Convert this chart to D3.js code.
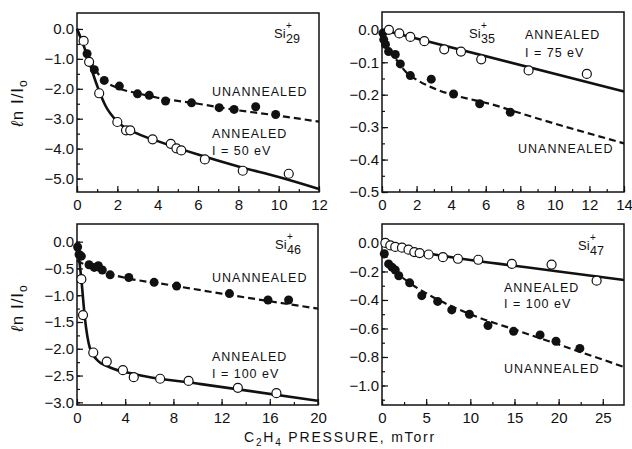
<!DOCTYPE html>
<html lang="en">
<head>
<meta charset="utf-8">
<title>ln I/I0 vs C2H4 pressure</title>
<script src="https://d3js.org/d3.v7.min.js"></script>
<style>
  body { margin: 0; background: #fff; }
  svg text { font-family: "Liberation Sans", Arial, Helvetica, sans-serif; fill: #111; }
</style>
</head>
<body>
<div id="chart"></div>
<script>
// ---- data: [pressure mTorr, ln I/I0] ----
// Si29+
var si29Annealed = [[0.33,-0.40],[0.6,-1.10],[1.1,-2.15],[2.0,-3.11],[2.43,-3.39],[2.64,-3.39],[3.75,-3.69],[4.65,-3.84],[4.93,-3.99],[5.17,-4.06],[6.34,-4.36],[8.22,-4.74],[10.5,-4.84]];
var si29Unannealed = [[0.5,-0.83],[0.86,-1.36],[1.35,-1.72],[2.1,-1.91],[3.0,-2.17],[3.58,-2.22],[4.39,-2.41],[5.68,-2.47],[7.05,-2.63],[7.79,-2.69],[8.86,-2.60],[9.85,-2.86]];
var si29AnnealedFit = [[0,0],[0.3,-0.5],[0.6,-1.1],[1.0,-1.9],[1.4,-2.55],[2,-3.1],[3,-3.5],[4,-3.75],[6,-4.2],[8,-4.6],[10,-4.95],[12,-5.35]];
var si29UnannealedFit = [[0,0],[0.5,-0.8],[1,-1.45],[1.5,-1.8],[2,-1.97],[3,-2.15],[4,-2.3],[6,-2.5],[8,-2.72],[10,-2.9],[12,-3.1]];

// Si35+
var si35Annealed = [[0.4,0.0],[1.0,-0.011],[1.64,-0.022],[2.45,-0.035],[3.6,-0.06],[4.57,-0.067],[5.74,-0.091],[8.48,-0.125],[11.85,-0.136]];
var si35Unannealed = [[0.05,-0.01],[0.1,-0.03],[0.2,-0.045],[0.38,-0.067],[0.77,-0.076],[1.06,-0.105],[1.64,-0.141],[2.85,-0.152],[4.14,-0.198],[5.65,-0.228],[7.42,-0.254]];
var si35AnnealedFit = [[0,0],[14,-0.19]];
var si35UnannealedFit = [[0,0],[0.3,-0.05],[0.8,-0.09],[1.6,-0.14],[7,-0.24],[14,-0.35]];

// Si46+
var si46Annealed = [[0.36,-0.70],[0.5,-1.37],[1.35,-2.07],[2.47,-2.24],[3.81,-2.40],[4.71,-2.53],[6.9,-2.56],[9.26,-2.60],[13.35,-2.73],[16.55,-2.83]];
var si46Unannealed = [[0.05,-0.1],[0.17,-0.24],[0.36,-0.27],[1.0,-0.43],[1.43,-0.48],[1.77,-0.45],[2.1,-0.53],[2.75,-0.62],[4.3,-0.67],[6.4,-0.76],[8.27,-0.83],[12.65,-0.97],[15.85,-1.09],[17.56,-1.09]];
var si46AnnealedFit = [[0,0],[0.36,-0.7],[0.65,-1.42],[1.07,-1.99],[1.63,-2.2],[2.75,-2.35],[4.7,-2.47],[10.3,-2.66],[20,-2.97]];
var si46UnannealedFit = [[0,-0.35],[1,-0.47],[3,-0.62],[8,-0.82],[12,-0.97],[20,-1.25]];

// Si47+
var si47Annealed = [[0.38,0.0],[0.94,-0.017],[1.5,-0.028],[2.26,-0.033],[3.0,-0.047],[3.66,-0.064],[4.26,-0.071],[5.28,-0.081],[6.9,-0.10],[8.6,-0.111],[10.9,-0.118],[14.7,-0.147],[19.2,-0.152],[24.3,-0.265]];
var si47Unannealed = [[0.26,-0.076],[0.75,-0.147],[1.13,-0.17],[1.5,-0.19],[1.9,-0.23],[3.13,-0.28],[4.5,-0.37],[6.3,-0.41],[7.9,-0.47],[9.9,-0.50],[12,-0.58],[14.9,-0.62],[17.9,-0.645],[19.7,-0.69],[22.4,-0.74]];
var si47AnnealedFit = [[0,0],[5,-0.07],[10,-0.12],[15,-0.16],[20,-0.2],[27.4,-0.26]];
var si47UnannealedFit = [[0.2,-0.06],[1.1,-0.17],[2.8,-0.265],[5.5,-0.37],[10,-0.5],[15.6,-0.62],[21.3,-0.74],[27.4,-0.87]];

// tick labels
var xTicks29 = [0,2,4,6,8,10,12];
var yTicks29 = [0,-1,-2,-3,-4,-5];
var xTicks35 = [0,2,4,6,8,10,12,14];
var yTicks35 = [0,-0.1,-0.2,-0.3,-0.4,-0.5];
var xTicks46 = [0,4,8,12,16,20];
var yTicks46 = [0,-0.5,-1,-1.5,-2,-2.5,-3];
var xTicks47 = [0,5,10,15,20,25];
var yTicks47 = [0,-0.2,-0.4,-0.6,-0.8,-1.0];

var w = 632, h = 449;

var svg = d3.select("#chart").append("svg")
    .attr("width", w)
    .attr("height", h);

var panels = [
  { ion: "29", x0: 77, x1: 319, y0: 13, y1: 192, xDom: [0,12], yDom: [0.533,-5.45],
    xTicks: xTicks29, yTicks: yTicks29, xMinor: 1, yMinor: 0.5,
    ann: si29Annealed, unann: si29Unannealed, annFit: si29AnnealedFit, unannFit: si29UnannealedFit,
    ionPos: [274, 38],
    labels: [["UNANNEALED",212,96],["ANNEALED",212,138],["I = 50 eV",212,155]] },
  { ion: "35", x0: 382, x1: 624, y0: 12, y1: 192, xDom: [0,14], yDom: [0.055,-0.5],
    xTicks: xTicks35, yTicks: yTicks35, xMinor: 1, yMinor: 0.05,
    ann: si35Annealed, unann: si35Unannealed, annFit: si35AnnealedFit, unannFit: si35UnannealedFit,
    ionPos: [469, 38],
    labels: [["ANNEALED",525,39],["I = 75 eV",525,57],["UNANNEALED",518,153]] },
  { ion: "46", x0: 77, x1: 318, y0: 224, y1: 405, xDom: [0,20], yDom: [0.33,-3.05],
    xTicks: xTicks46, yTicks: yTicks46, xMinor: 2, yMinor: 0.25,
    ann: si46Annealed, unann: si46Unannealed, annFit: si46AnnealedFit, unannFit: si46UnannealedFit,
    ionPos: [275, 249],
    labels: [["UNANNEALED",212,282],["ANNEALED",212,361],["I = 100 eV",212,378]] },
  { ion: "47", x0: 382, x1: 624, y0: 224, y1: 405, xDom: [0,27.4], yDom: [0.133,-1.137],
    xTicks: xTicks47, yTicks: yTicks47, xMinor: 2.5, yMinor: 0.1,
    ann: si47Annealed, unann: si47Unannealed, annFit: si47AnnealedFit, unannFit: si47UnannealedFit,
    ionPos: [578, 250],
    labels: [["ANNEALED",504,292],["I = 100 eV",504,308],["UNANNEALED",504,373]] }
];

panels.forEach(function(p) {
  var x = d3.scaleLinear().domain(p.xDom).range([p.x0, p.x1]);
  var y = d3.scaleLinear().domain(p.yDom).range([p.y0, p.y1]);
  var g = svg.append("g");

  // minor ticks
  var xm = d3.range(p.xDom[0], p.xDom[1] + 1e-9, p.xMinor);
  var ym = d3.range(0, p.yDom[1] - 1e-9, -p.yMinor);
  g.append("g").attr("transform", "translate(0," + p.y1 + ")")
    .call(d3.axisBottom(x).tickValues(xm).tickSizeInner(-3).tickSizeOuter(0).tickFormat(""))
    .call(function(a) { a.select(".domain").remove(); });
  g.append("g").attr("transform", "translate(" + p.x0 + ",0)")
    .call(d3.axisLeft(y).tickValues(ym).tickSizeInner(-3).tickSizeOuter(0).tickFormat(""))
    .call(function(a) { a.select(".domain").remove(); });

  // major ticks
  var ax = g.append("g").attr("transform", "translate(0," + p.y1 + ")")
    .call(d3.axisBottom(x).tickValues(p.xTicks).tickSizeInner(-6).tickSizeOuter(0).tickPadding(7)
      .tickFormat(d3.format("d")));
  var ay = g.append("g").attr("transform", "translate(" + p.x0 + ",0)")
    .call(d3.axisLeft(y).tickValues(p.yTicks).tickSizeInner(-6).tickSizeOuter(0).tickPadding(3)
      .tickFormat(d3.format(".1f")));
  [ax, ay].forEach(function(a) {
    a.select(".domain").remove();
    a.selectAll("text").style("font-size", "15px").attr("fill", "#111");
  });
  g.selectAll(".tick line").attr("stroke", "#111").attr("stroke-width", 1.2);

  // frame
  g.append("rect")
    .attr("x", p.x0).attr("y", p.y0)
    .attr("width", p.x1 - p.x0).attr("height", p.y1 - p.y0)
    .attr("fill", "none").attr("stroke", "#111").attr("stroke-width", 1.5);

  var line = d3.line()
    .x(function(d) { return x(d[0]); })
    .y(function(d) { return y(d[1]); })
    .curve(d3.curveMonotoneX);

  g.append("path").datum(p.annFit)
    .attr("d", line).attr("fill", "none")
    .attr("stroke", "#111").attr("stroke-width", 2.6);
  g.append("path").datum(p.unannFit)
    .attr("d", line).attr("fill", "none")
    .attr("stroke", "#111").attr("stroke-width", 2.2)
    .attr("stroke-dasharray", "7,4");

  g.selectAll("circle.unann").data(p.unann).enter().append("circle")
    .attr("class", "unann")
    .attr("cx", function(d) { return x(d[0]); })
    .attr("cy", function(d) { return y(d[1]); })
    .attr("r", 4.5)
    .attr("fill", "#111");
  g.selectAll("circle.ann").data(p.ann).enter().append("circle")
    .attr("class", "ann")
    .attr("cx", function(d) { return x(d[0]); })
    .attr("cy", function(d) { return y(d[1]); })
    .attr("r", 4.5)
    .attr("fill", "#fff").attr("stroke", "#111").attr("stroke-width", 1.2);

  // ion label Si+ with subscript
  var ix = p.ionPos[0], iy = p.ionPos[1];
  g.append("text").attr("x", ix).attr("y", iy).style("font-size", "13px").text("Si");
  g.append("text").attr("x", ix + 12).attr("y", iy - 9).style("font-size", "10px").text("+");
  g.append("text").attr("x", ix + 12).attr("y", iy + 5).style("font-size", "12.5px").text(p.ion);

  g.selectAll("text.lab").data(p.labels).enter().append("text")
    .attr("class", "lab")
    .attr("x", function(d) { return d[1]; })
    .attr("y", function(d) { return d[2]; })
    .style("font-size", "12.5px")
    .style("letter-spacing", "1px")
    .text(function(d) { return d[0]; });
});

// y axis titles
[103, 308].forEach(function(cy) {
  var t = svg.append("text")
    .attr("transform", "translate(23," + cy + ") rotate(-90)")
    .attr("text-anchor", "middle")
    .style("font-size", "17px")
    .style("letter-spacing", "1px");
  t.append("tspan").style("font-style", "italic").text("ℓ");
  t.append("tspan").text("n I/I");
  t.append("tspan").attr("dy", 4).style("font-size", "12px").text("o");
});

// x axis title
var xt = svg.append("text")
  .attr("x", 340).attr("y", 442)
  .attr("text-anchor", "middle")
  .style("font-size", "14px")
  .style("letter-spacing", "1.8px");
xt.append("tspan").text("C");
xt.append("tspan").attr("dy", 4).style("font-size", "10px").text("2");
xt.append("tspan").attr("dy", -4).text("H");
xt.append("tspan").attr("dy", 4).style("font-size", "10px").text("4");
xt.append("tspan").attr("dy", -4).text(" PRESSURE,  mTorr");
</script>
</body>
</html>
